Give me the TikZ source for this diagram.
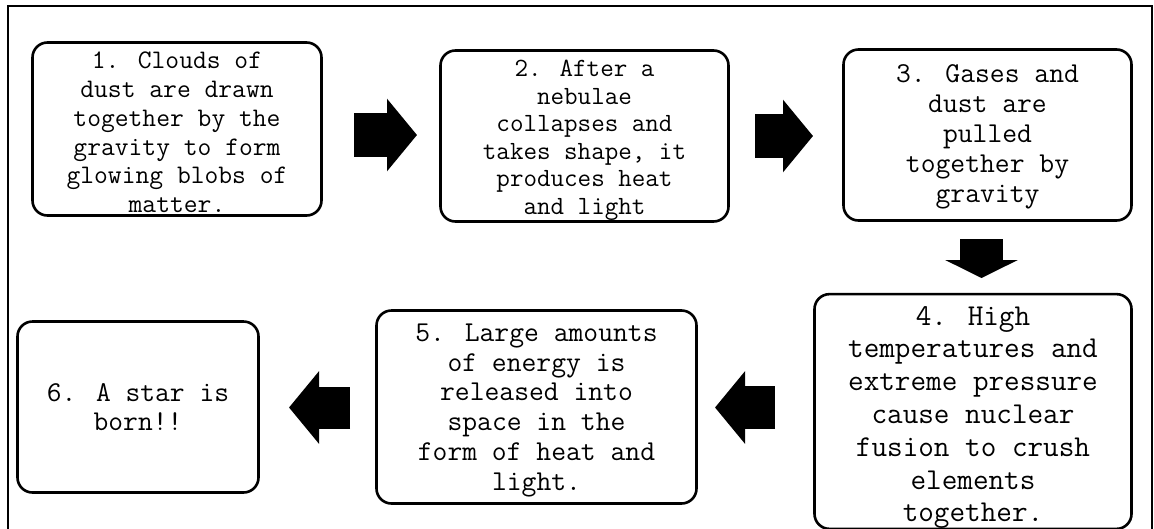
\documentclass[tikz,border=0pt]{standalone}
\usepackage{fontspec}
\usetikzlibrary{arrows.meta}
\newcommand{\stagefont}[2]{\ttfamily\fontsize{#1}{#2}\selectfont\addfontfeatures{LetterSpace=7.5}}
\newcommand{\topstrut}[1]{\rule{0pt}{#1}}
\begin{document}
\begin{tikzpicture}[x=1pt, y=-1pt,
  stagebox/.style={draw, line width=2.6pt, rounded corners=15pt, align=center, inner sep=0pt},
  blockarrow/.style={line width=#1, -{Triangle[width=71pt, length=30pt]}},
  frameline/.style={line width=2pt}]
\useasboundingbox (0,0) rectangle (1154,528);
\draw[frameline] (8,530) -- (8,6) -- (1151.5,6) -- (1151.5,530);
\node[stagebox, minimum width=289, minimum height=173, font=\stagefont{26.8}{28.8}] (stage1) at (177,129) {\topstrut{23.4pt}1. Clouds of\\dust are drawn\\together by the\\gravity to form\\glowing blobs of\\matter.};
\node[stagebox, minimum width=288, minimum height=171, font=\stagefont{26.3}{27.6}] (stage2) at (584.5,136) {\topstrut{24.9pt}2. After a\\nebulae\\collapses and\\takes shape, it\\produces heat\\and light};
\node[stagebox, minimum width=288, minimum height=171, font=\stagefont{28.8}{30}] (stage3) at (987.5,135) {\topstrut{22pt}3. Gases and\\dust are\\pulled\\together by\\gravity};
\node[stagebox, minimum width=317, minimum height=224, font=\stagefont{30.3}{32.8}] (stage4) at (973,411.5) {\topstrut{31pt}4. High\\temperatures and\\extreme pressure\\cause nuclear\\fusion to crush\\elements\\together.};
\node[stagebox, minimum width=320, minimum height=193, font=\stagefont{28.8}{29.8}] (stage5) at (536.5,407) {\topstrut{24pt}5. Large amounts\\of energy is\\released into\\space in the\\form of heat and\\light.};
\node[stagebox, minimum width=241, minimum height=171, font=\stagefont{28.7}{29.5}] (stage6) at (138,407) {6. A star is\\born!!};
% block arrows between the stages
\coordinate (arr1s) at (354,135);
\coordinate (arr1e) at (417,135);
\draw[blockarrow=44pt] (arr1s) -- (arr1e);
\coordinate (arr2s) at (755,136);
\coordinate (arr2e) at (813,136);
\draw[blockarrow=44pt] (arr2s) -- (arr2e);
\coordinate (arr3s) at (981.5,239);
\coordinate (arr3e) at (981.5,278);
\draw[blockarrow=43pt, -{Triangle[width=72pt, length=18pt]}] (arr3s) -- (arr3e);
\coordinate (arr4s) at (775,407.5);
\coordinate (arr4e) at (715,407.5);
\draw[blockarrow=42.5pt] (arr4s) -- (arr4e);
\coordinate (arr5s) at (350,407.5);
\coordinate (arr5e) at (289,407.5);
\draw[blockarrow=42pt] (arr5s) -- (arr5e);
\end{tikzpicture}
\end{document}
